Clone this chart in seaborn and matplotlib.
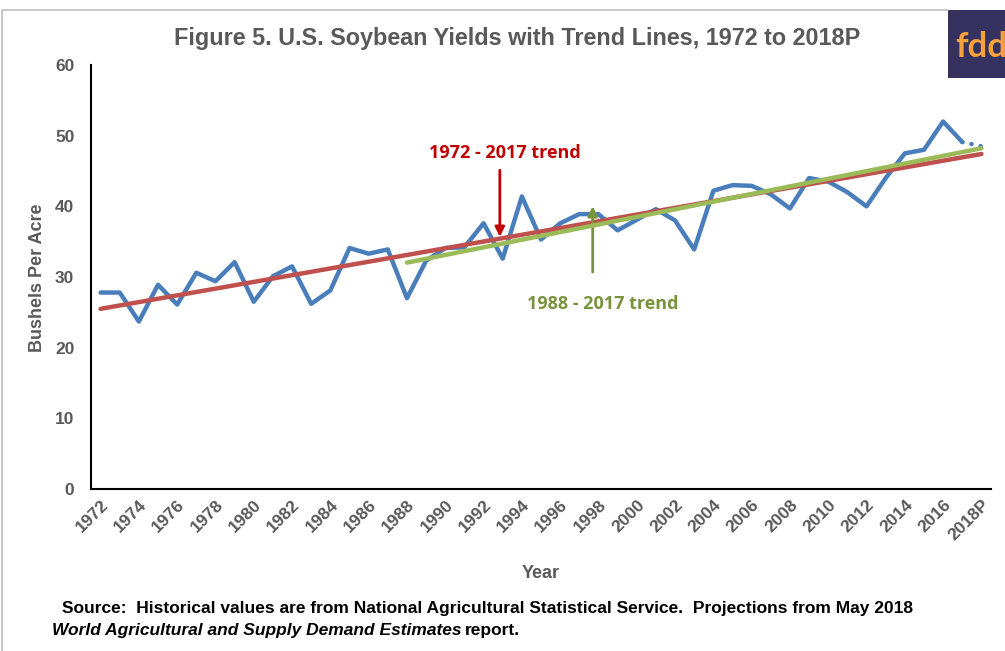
import numpy as np
import pandas as pd
import matplotlib
matplotlib.use("Agg")
import matplotlib.pyplot as plt
import seaborn as sns
from matplotlib.patches import Rectangle

years = [str(y) for y in range(1972, 2018)] + ["2018P"]
yields = [27.8, 27.8, 23.7, 28.9, 26.1, 30.6, 29.4, 32.1, 26.5, 30.1,
          31.5, 26.2, 28.1, 34.1, 33.3, 33.9, 27.0, 32.3, 34.1, 34.2,
          37.6, 32.6, 41.4, 35.3, 37.6, 38.9, 38.9, 36.6, 38.1, 39.6,
          38.0, 33.9, 42.2, 43.0, 42.9, 41.7, 39.7, 44.0, 43.5, 42.0,
          40.0, 44.0, 47.5, 48.0, 52.0, 49.1, 48.5]
tick_labels = years[::2]

BLUE = "#4a7ebb"
RED = "#c0504d"
GREEN = "#9bbb59"
GRAY = "#595959"

sns.set_theme(style="white")
plt.rcParams['font.family'] = ['Liberation Sans', 'DejaVu Sans']

df = pd.DataFrame({"idx": np.arange(len(years)), "year": years, "yield": yields})
hist = df.iloc[:-1]
proj = df.iloc[-2:]

# trend lines (linear fits on historical values)
xa = hist["idx"].values
ya = hist["yield"].values
p_all = np.polyfit(xa, ya, 1)
m88 = xa >= 16
p_88 = np.polyfit(xa[m88], ya[m88], 1)
t_all = pd.DataFrame({"idx": df["idx"], "val": np.polyval(p_all, df["idx"])})
t_88 = pd.DataFrame({"idx": df["idx"][16:], "val": np.polyval(p_88, df["idx"][16:])})

fig = plt.figure(figsize=(10.05, 6.51), dpi=100)
ax = fig.add_axes([91/1005, 1-489/651, (991-91)/1005, (489-65)/651])

sns.lineplot(data=hist, x="idx", y="yield", ax=ax, color=BLUE, linewidth=3.2,
             solid_capstyle="round", solid_joinstyle="round", zorder=2)
sns.lineplot(data=proj, x="idx", y="yield", ax=ax, color=BLUE, linewidth=3.2,
             linestyle=(0, (0.05, 2.05)), dash_capstyle="round", zorder=2)
sns.lineplot(data=t_all, x="idx", y="val", ax=ax, color=RED, linewidth=3.2, zorder=3)
sns.lineplot(data=t_88, x="idx", y="val", ax=ax, color=GREEN, linewidth=3.2, zorder=4)

ax.set_xlim(-0.5, len(years) - 0.5)
ax.set_ylim(0, 60)
ax.set_yticks(range(0, 61, 10))
ax.set_xticks(np.arange(0, len(years), 2))
ax.set_xticklabels(tick_labels, rotation=45, ha="right", rotation_mode="anchor")
ax.tick_params(axis="both", labelsize=12.5, labelcolor=GRAY, length=0)
for lab in ax.get_xticklabels() + ax.get_yticklabels():
    lab.set_fontweight("bold")
ax.tick_params(axis="x", pad=6)
ax.tick_params(axis="y", pad=12)

for s in ["top", "right"]:
    ax.spines[s].set_visible(False)
for s in ["left", "bottom"]:
    ax.spines[s].set_color("black")
    ax.spines[s].set_linewidth(1.5)

ax.set_xlabel("")
ax.set_ylabel("")
fig.text(38/1005, 1-278/651, "Bushels Per Acre", rotation=90, ha="center", va="center",
         fontsize=13, fontweight="bold", color=GRAY)
fig.text(541/1005, 1-573/651, "Year", ha="center", va="center",
         fontsize=13, fontweight="bold", color=GRAY)
fig.text(517/1005, 1-38/651, "Figure 5. U.S. Soybean Yields with Trend Lines, 1972 to 2018P",
         ha="center", va="center", fontsize=16.8, fontweight="bold", color=GRAY)

# annotations
ax.annotate("", xy=(20.85, 35.3), xytext=(20.85, 45.5),
            arrowprops=dict(arrowstyle="-|>", color="#c00000", lw=2, mutation_scale=14))
ax.text(21.1, 47.5, "1972 - 2017 trend", ha="center", va="center", color="#c00000",
        fontsize=13, fontweight="bold", family=["Open Sans", "DejaVu Sans"])
ax.annotate("", xy=(25.7, 40.4), xytext=(25.7, 30.3),
            arrowprops=dict(arrowstyle="-|>", color="#77933c", lw=2, mutation_scale=14))
ax.text(26.25, 26.2, "1988 - 2017 trend", ha="center", va="center", color="#77933c",
        fontsize=13, fontweight="bold", family=["Open Sans", "DejaVu Sans"])

# source note
fig.text(62/1005, 1-609/651,
         "Source:  Historical values are from National Agricultural Statistical Service.  Projections from May 2018",
         ha="left", va="center", fontsize=12.5, fontweight="bold", color="black")
t1 = fig.text(52/1005, 1-630/651, "World Agricultural and Supply Demand Estimates",
              ha="left", va="center", fontsize=12.5, fontweight="bold", fontstyle="italic",
              color="black")
fig.canvas.draw()
bb = t1.get_window_extent()
fig.text(bb.x1 / 1005 + 0.003, 1-630/651, "report.", ha="left", va="center", fontsize=12.5,
         fontweight="bold", color="black")

# outer frame lines
fig.add_artist(plt.Line2D([2/1005, 2/1005], [0, 1-10/651], color="#bfbfbf", lw=1.2))
fig.add_artist(plt.Line2D([2/1005, 948/1005], [1-10/651, 1-10/651], color="#bfbfbf", lw=1.2))

# logo
fig.add_artist(Rectangle((948/1005, 1-78/651), 57/1005, 68/651, transform=fig.transFigure,
                         facecolor="#35325f", edgecolor="none"))
fig.text(955/1005, 1-47/651, "fdd", ha="left", va="center", fontsize=25, fontweight="bold",
         color="#f7a13a", family=["Lato", "DejaVu Sans"])

fig.savefig("out.png", dpi=100)
